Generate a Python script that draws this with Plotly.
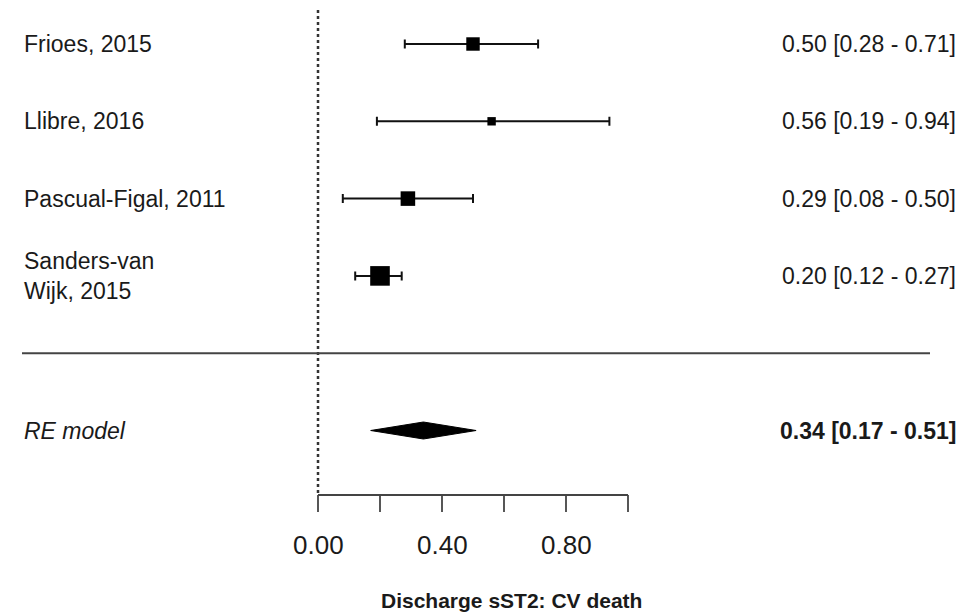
import plotly.graph_objects as go

# ---- data ----
studies = ["Frioes, 2015", "Llibre, 2016", "Pascual-Figal, 2011", "Sanders-van<br>Wijk, 2015"]
estimates = [0.50, 0.56, 0.29, 0.20]
ci_low = [0.28, 0.19, 0.08, 0.12]
ci_high = [0.71, 0.94, 0.50, 0.27]
weights = [24, 15, 26, 35]  # estimated relative weights (%)

re_label = "RE model"
re_est = 0.34
re_low = 0.17
re_high = 0.51

tick_vals = [0.0, 0.2, 0.4, 0.6, 0.8, 1.0]
tick_labels = ["0.00", "", "0.40", "", "0.80", ""]
x_title = "Discharge sST2: CV death"

# ---- layout geometry ----
W, H = 965, 616
X0PX, XSCALE = 318.0, 310.0       # pixel of x=0, px per unit
Y0PX, YSCALE = 44.0, 77.3         # pixel of first row, px per row

def xd(px):
    return (px - X0PX) / XSCALE

def yd(px):
    return (px - Y0PX) / YSCALE

rows = list(range(len(studies)))
sep_row = len(studies)
re_row = len(studies) + 1
axis_row = yd(495)
tick_end = yd(512)

FONT = "Liberation Sans, Arial, sans-serif"
TXT = "#1a1a1a"

fig = go.Figure()

# study estimates with CIs
fig.add_trace(go.Scatter(
    x=estimates, y=rows, mode="markers",
    marker=dict(symbol="square", color="black", opacity=1,
                size=[w * 0.56 for w in weights], line=dict(width=0)),
    error_x=dict(type="data", symmetric=False,
                 array=[h - e for h, e in zip(ci_high, estimates)],
                 arrayminus=[e - l for e, l in zip(estimates, ci_low)],
                 color="#111111", thickness=2, width=4.5),
    showlegend=False, hoverinfo="skip", cliponaxis=False,
))

# summary diamond
dh = yd(Y0PX + 8.5)
fig.add_trace(go.Scatter(
    x=[re_low, re_est, re_high, re_est, re_low],
    y=[re_row, re_row - dh, re_row, re_row + dh, re_row],
    mode="lines", fill="toself", fillcolor="black",
    line=dict(color="black", width=1),
    showlegend=False, hoverinfo="skip",
))

shapes = []
# dotted reference line at 0
shapes.append(dict(type="line", xref="x", yref="y", x0=0, x1=0,
                   y0=yd(10), y1=axis_row,
                   line=dict(color="#333333", width=2.5, dash="dot")))
# separator line
shapes.append(dict(type="line", xref="x", yref="y", x0=xd(22), x1=xd(930),
                   y0=sep_row, y1=sep_row,
                   line=dict(color="#444444", width=2)))
# x axis line
shapes.append(dict(type="line", xref="x", yref="y", x0=tick_vals[0], x1=tick_vals[-1],
                   y0=axis_row, y1=axis_row,
                   line=dict(color="#444444", width=1.8)))
for t in tick_vals:
    shapes.append(dict(type="line", xref="x", yref="y", x0=t, x1=t,
                       y0=axis_row, y1=tick_end,
                       line=dict(color="#444444", width=1.8)))

annotations = []
for r, s in zip(rows, studies):
    annotations.append(dict(x=xd(22), y=r, xref="x", yref="y", text=s,
                            showarrow=False, xanchor="left", yanchor="middle",
                            align="left",
                            font=dict(family=FONT, size=23, color=TXT)))
for r, e, l, h in zip(rows, estimates, ci_low, ci_high):
    annotations.append(dict(x=xd(958), y=r, xref="x", yref="y",
                            text=f"{e:.2f} [{l:.2f} - {h:.2f}]",
                            showarrow=False, xanchor="right", yanchor="middle",
                            font=dict(family=FONT, size=23, color=TXT)))
annotations.append(dict(x=xd(22), y=re_row, xref="x", yref="y",
                        text=f"<i>{re_label}</i>", showarrow=False,
                        xanchor="left", yanchor="middle",
                        font=dict(family=FONT, size=23, color=TXT)))
annotations.append(dict(x=xd(958), y=re_row, xref="x", yref="y",
                        text=f"<b>{re_est:.2f} [{re_low:.2f} - {re_high:.2f}]</b>",
                        showarrow=False, xanchor="right", yanchor="middle",
                        font=dict(family=FONT, size=23, color=TXT)))
for t, lab in zip(tick_vals, tick_labels):
    if lab:
        annotations.append(dict(x=t, y=yd(545), xref="x", yref="y", text=lab,
                                showarrow=False, xanchor="center", yanchor="middle",
                                font=dict(family=FONT, size=26, color=TXT)))
annotations.append(dict(x=xd(511), y=yd(600), xref="x", yref="y",
                        text=f"<b>{x_title}</b>", showarrow=False,
                        xanchor="center", yanchor="middle",
                        font=dict(family=FONT, size=21, color=TXT)))

fig.update_layout(
    width=W, height=H,
    margin=dict(l=0, r=0, t=0, b=0),
    paper_bgcolor="white", plot_bgcolor="white",
    xaxis=dict(range=[xd(0), xd(W)], visible=False, fixedrange=True),
    yaxis=dict(range=[yd(H), yd(0)], visible=False, fixedrange=True),
    shapes=shapes, annotations=annotations,
)

fig.write_html("out.html", config={"displayModeBar": False},
               post_script="document.body.style.margin='0';document.body.style.overflow='hidden';")
